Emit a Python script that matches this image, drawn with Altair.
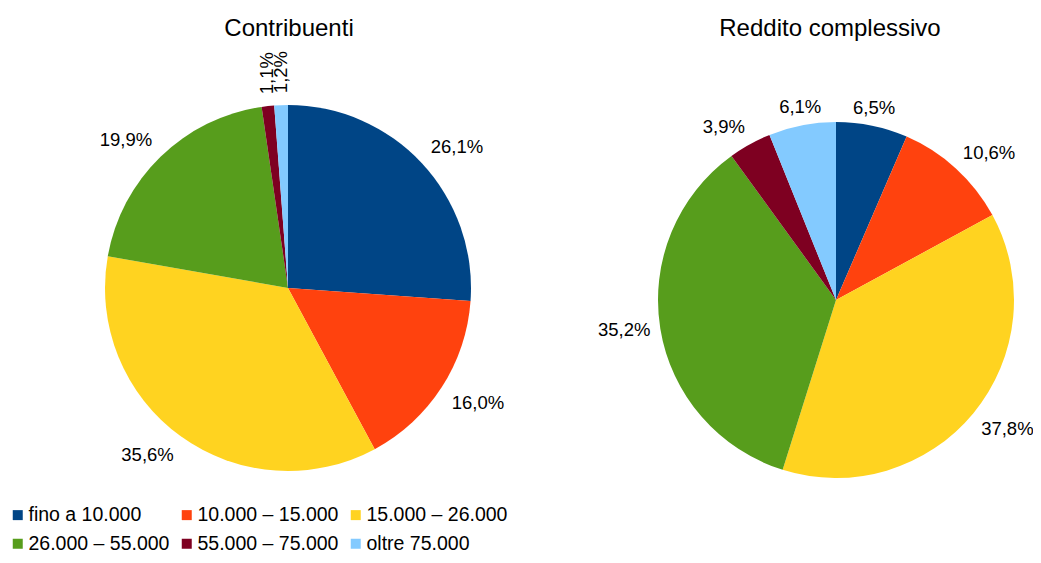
import math
import altair as alt
import pandas as pd

# ---------------- data ----------------
categories = ["fino a 10.000", "10.000 – 15.000", "15.000 – 26.000",
              "26.000 – 55.000", "55.000 – 75.000", "oltre 75.000"]
contribuenti = [26.1, 16.0, 35.6, 19.9, 1.1, 1.2]
reddito = [6.5, 10.6, 37.8, 35.2, 3.9, 6.1]
titles = ["Contribuenti", "Reddito complessivo"]
colors = ["#004586", "#ff420e", "#ffd320", "#579d1c", "#7e0021", "#83caff"]

FONT = "Liberation Sans"
LABEL_SIZE = 18.5

color_scale = alt.Scale(domain=categories, range=colors)
legend = alt.Legend(
    orient="none", legendX=0, legendY=497, columns=3, direction="horizontal", title=None,
    symbolType="square", symbolSize=100, symbolStrokeWidth=0,
    labelFont=FONT, labelFontSize=19.5, labelColor="black", labelLimit=0,
    labelOffset=1, columnPadding=7, rowPadding=8, padding=0,
)


def placement(compass_deg):
    m = (90 - compass_deg) % 360
    if m <= 22.5 or m > 337.5:
        return ("left", "middle")
    if m < 67.5:
        return ("left", "bottom")
    if m < 112.5:
        return ("center", "bottom")
    if m <= 157.5:
        return ("right", "bottom")
    if m <= 202.5:
        return ("right", "middle")
    if m < 247.5:
        return ("right", "top")
    if m < 292.5:
        return ("center", "top")
    return ("left", "top")


def build(values):
    total = sum(values)
    rows = []
    cum = 0.0
    for i, (c, v) in enumerate(zip(categories, values)):
        mid = cum + v / 2
        cum += v
        al, bl = placement(mid / total * 360)
        rows.append(dict(cat=c, idx=i, value=v, mid=mid,
                         label=f"{v:.1f}".replace(".", ",") + "%",
                         align=al, baseline=bl, rot=bool(v < 2)))
    return pd.DataFrame(rows), total


def pie(values, cx, cy, r, gap):
    df, total = build(values)
    tscale = alt.Scale(domain=[0, total], nice=False, zero=True)
    arc = alt.Chart(df).mark_arc(outerRadius=r, strokeWidth=0).encode(
        theta=alt.Theta("value:Q", stack=True, scale=tscale),
        color=alt.Color("cat:N", scale=color_scale, legend=legend),
        order=alt.Order("idx:Q"),
        x=alt.value(cx), y=alt.value(cy),
    )
    layers = [arc]
    normal = df[~df.rot]
    for (al, bl), sub in normal.groupby(["align", "baseline"]):
        layers.append(
            alt.Chart(sub).mark_text(radius=r + gap, align=al, baseline=bl,
                                     dy=2 if bl == "bottom" else 0,
                                     font=FONT, fontSize=LABEL_SIZE, color="black").encode(
                theta=alt.Theta("mid:Q", stack=False, scale=tscale),
                text="label:N", x=alt.value(cx), y=alt.value(cy))
        )
    rot = df[df.rot]
    if len(rot):
        layers.append(
            alt.Chart(rot).mark_text(radius=r + gap, align="left", baseline="middle", angle=270,
                                     font=FONT, fontSize=LABEL_SIZE, color="black").encode(
                theta=alt.Theta("mid:Q", stack=False, scale=tscale),
                text="label:N", x=alt.value(cx), y=alt.value(cy))
        )
    return layers


def title_layer(t, x, y):
    return alt.Chart(pd.DataFrame({"t": [t]})).mark_text(
        font=FONT, fontSize=24, color="black", align="center", baseline="alphabetic"
    ).encode(text="t:N", x=alt.value(x), y=alt.value(y))


layers = []
layers += pie(contribuenti, 280, 280, 183, 12)
layers += pie(reddito, 828, 292, 178, 10)
layers.append(title_layer(titles[0], 281, 28))
layers.append(title_layer(titles[1], 822, 28))

chart = alt.layer(*layers).resolve_scale(theta="independent").properties(
    width=1025, height=547, padding=0, autosize="none"
).configure_view(strokeWidth=0)

chart.save("out.html", embed_options={"renderer": "svg", "actions": False})
